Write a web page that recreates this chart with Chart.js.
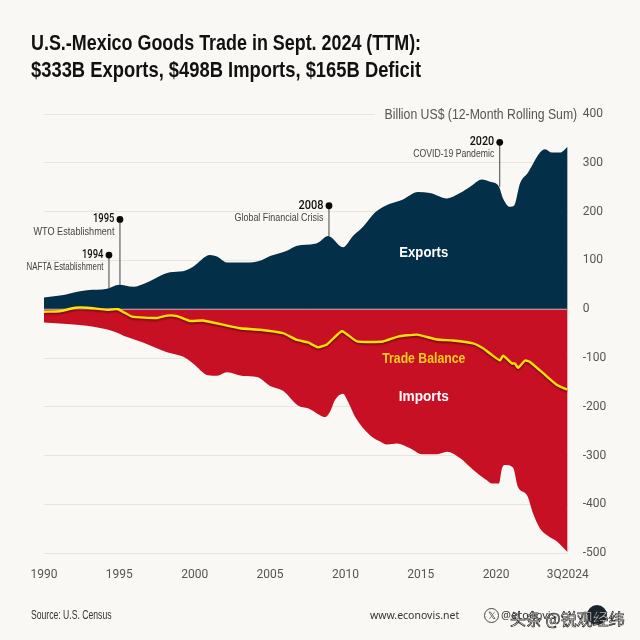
<!DOCTYPE html>
<html><head><meta charset="utf-8">
<script src="https://cdn.jsdelivr.net/npm/chart.js@4"></script>
<style>
html,body{margin:0;padding:0;background:#FAF8F4;}
#wrap{position:relative;width:640px;height:640px;overflow:hidden;background:#FAF8F4;}
canvas{position:absolute;left:0;top:0;}
.t{position:absolute;white-space:nowrap;}
.title{left:31px;font:bold 22px/27px "Liberation Sans",sans-serif;color:#111;transform-origin:left center;}
#unit{left:375px;width:202px;top:105px;height:18px;background:#FAF8F4;}
#unit span{position:absolute;right:0;top:0;font:14px/18px "Liberation Sans",sans-serif;color:#555;transform:scaleX(.875);transform-origin:right center;white-space:nowrap;}
#src{left:31px;top:608px;font:12.5px/14px "Liberation Sans",sans-serif;color:#333;transform:scaleX(.69);transform-origin:left center;}
#web{left:370px;top:608px;font:10.5px/14px "Noto Sans",sans-serif;color:#333;}
#xlogo{left:484px;top:608px;width:13px;height:13px;border:1px solid #444;border-radius:50%;font:10px/13px "Noto Sans",sans-serif;text-align:center;color:#333;}
#handle{left:501px;top:608px;font:11px/14px "Noto Sans",sans-serif;color:#333;}
#logo{left:587px;top:605px;width:20px;height:20px;border-radius:50%;background:#1a2430;}
#mark{left:510px;top:607px;font:16px/22px "Noto Sans CJK SC",sans-serif;color:#fff;-webkit-text-stroke:.7px #222;}
</style></head><body>
<div id="wrap">
<canvas id="c" width="640" height="640"></canvas>
<div class="t title" style="top:29px;transform:scaleX(.814)">U.S.-Mexico Goods Trade in Sept. 2024 (TTM):</div>
<div class="t title" style="top:56px;transform:scaleX(.835)">$333B Exports, $498B Imports, $165B Deficit</div>
<div class="t" id="unit"><span>Billion US$ (12-Month Rolling Sum)</span></div>
<div class="t" id="src">Source: U.S. Census</div>
<div class="t" id="web">www.econovis.net</div>
<div class="t" id="xlogo">𝕏</div>
<div class="t" id="handle">@econovis</div>
<div class="t" id="logo"></div>
<div class="t" id="mark">头条 @锐观经纬</div>
</div>
<script>
const exportYears=[1990,1991.06,1992.39,1992.85,1994.18,1994.98,1995.91,1996.83,1998.36,1999.22,1999.89,2001.02,2001.48,2002.14,2003.67,2004.47,2005,2006.12,2006.79,2007.98,2008.31,2008.85,2009.84,2010.5,2011.17,2011.96,2012.3,2012.96,2013.82,2014.82,2015.61,2016.74,2017.6,2018.27,2019.06,2019.6,2020.19,2020.46,2020.92,2021.19,2021.59,2022.12,2022.91,2023.24,2023.71,2024.24,2024.75];
const exportValues=[24,28,37,39,42,50,46,55,76,78,87,111,108,96,96,101,109,120,130,134,139,150,127,150,169,198,206,216,225,240,238,227,238,251,266,261,251,227,210,212,258,280,321,328,321,321,333];
const importYears=[1990,1991.53,1992.85,1994.58,1995.51,1996.57,1998.16,1999.22,1999.89,2000.88,2001.48,2002.14,2003.2,2004.13,2005,2005.86,2006.85,2007.52,2008.31,2008.65,2008.98,2009.31,2009.84,2010.17,2010.64,2011.63,2012.3,2012.76,2013.42,2014.29,2015.08,2016.08,2016.74,2017.6,2018.47,2019.4,2019.73,2020.19,2020.39,2020.59,2021.12,2021.45,2022.05,2022.45,2022.91,2023.38,2024.04,2024.75];
const importValues=[-27,-30,-34,-45,-57,-68,-88,-97,-111,-135,-136,-129,-137,-139,-157,-167,-197,-203,-217,-221,-210,-186,-173,-189,-220,-258,-271,-277,-275,-285,-297,-297,-292,-305,-329,-351,-357,-357,-326,-319,-324,-364,-381,-418,-449,-463,-476,-498];
const balanceYears=[1990,1991.06,1992.06,1992.85,1994.18,1994.91,1995.84,1997.5,1998.16,1998.83,1999.69,2000.55,2003,2004.33,2005.86,2006.79,2007.52,2008.18,2008.78,2009.77,2010.77,2012.5,2013.49,2014.75,2016.08,2017.14,2018.47,2019.13,2019.73,2020.26,2020.46,2021.06,2021.25,2021.45,2021.92,2022.25,2023.38,2024.04,2024.75];
const balanceValues=[-5,-4,3,3,-1,0,-15,-18,-13,-14,-24,-23,-39,-42,-49,-63,-68,-78,-72,-45,-66,-66,-56,-52,-62,-64,-70,-80,-94,-105,-95,-111,-111,-120,-105,-108,-138,-155,-165];
const zeroYears=[1990,2024.75];
const zeroValues=[0,0];
const xTickValues=[1990,1995,2000,2005,2010,2015,2020,2024.75];
const xTickLabels=["1990","1995","2000","2005","2010","2015","2020","3Q2024"];
const eventYears=[1994.31,1995.04,2008.91,2020.24];
const eventTops=[111,184,212,342];
const eventBases=[42,50,150,251];
const eventNames=["1994","1995","2008","2020"];
const eventNotes=["NAFTA Establishment","WTO Establishment","Global Financial Crisis","COVID-19 Pandemic"];
const areaLabels=["Exports","Trade Balance","Imports"];
const areaLabelY=[115,-101,-180];
const areaLabelYear=2015.2;

const zip=(xs,ys)=>xs.map((x,i)=>({x,y:ys[i]}));
const BAL=0;
function fitText(c,t,x,y,w,align){
  const m=c.measureText(t).width,s=Math.min(1,w/m);
  c.save();c.translate(x,y);c.scale(s,1);c.textAlign=align;c.fillText(t,0,0);c.restore();
}
const noteWidths=[77,81,89,81];
const nameWidths=[21.5,21.5,25,24.5];
const areaWidths=[49,83,50];
const overlay={
  id:'overlay',
  beforeDatasetDraw(ch,a){ if(a.index===BAL){const c=ch.ctx;c.save();c.shadowColor='rgba(70,0,10,.65)';c.shadowBlur=2;c.shadowOffsetY=1.5;} },
  afterDatasetDraw(ch,a){ if(a.index===BAL){ch.ctx.restore();} },
  afterDatasetsDraw(ch){
    const c=ch.ctx,X=ch.scales.x,Y=ch.scales.y;
    c.save();
    c.textBaseline='middle';
    eventYears.forEach((yr,i)=>{
      const px=X.getPixelForValue(yr),top=Y.getPixelForValue(eventTops[i]),bot=Y.getPixelForValue(eventBases[i]);
      c.strokeStyle='#444';c.lineWidth=1;
      c.beginPath();c.moveTo(px,top);c.lineTo(px,bot);c.stroke();
      c.fillStyle='#0a0a0a';c.beginPath();c.arc(px,top,3.4,0,Math.PI*2);c.fill();
      c.font='500 12px Roboto,sans-serif';c.fillStyle='#111';
      fitText(c,eventNames[i],px-5.5,top,nameWidths[i],'right');
      c.font='11.5px "Liberation Sans",sans-serif';c.fillStyle='#444';
      fitText(c,eventNotes[i],px-5.5,top+12,noteWidths[i],'right');
    });
    const cols=['#ffffff','#F5CE1A','#ffffff'];
    areaLabels.forEach((t,i)=>{
      c.font='bold 15.5px "Liberation Sans",sans-serif';
      c.fillStyle=cols[i];
      fitText(c,t,X.getPixelForValue(areaLabelYear),Y.getPixelForValue(areaLabelY[i]),areaWidths[i],'center');
    });
    c.restore();
  }
};
new Chart(document.getElementById('c'),{
  type:'line',
  data:{datasets:[
    {label:'Trade Balance',data:zip(balanceYears,balanceValues),borderColor:'#FFE207',borderWidth:2.4,fill:false,pointRadius:0,tension:0.15,borderJoinStyle:'round'},
    {label:'Zero',data:zip(zeroYears,zeroValues),borderColor:'#CDAAAC',borderWidth:1,fill:false,pointRadius:0},
    {label:'Exports',data:zip(exportYears,exportValues),borderWidth:0,backgroundColor:'#032F49',fill:'origin',pointRadius:0,cubicInterpolationMode:'monotone'},
    {label:'Imports',data:zip(importYears,importValues),borderWidth:0,backgroundColor:'#C81024',fill:'origin',pointRadius:0,cubicInterpolationMode:'monotone'},
  ]},
  options:{
    responsive:false,animation:false,
    layout:{padding:{left:44,top:114,right:0,bottom:0}},
    plugins:{legend:{display:false},tooltip:{enabled:false}},
    scales:{
      x:{type:'linear',min:1990,max:2024.75,
        afterBuildTicks:s=>{s.ticks=xTickValues.map(v=>({value:v}));},
        afterFit:s=>{s.height=86.7;},
        grid:{display:false},border:{display:false},
        ticks:{autoSkip:false,maxRotation:0,padding:6,color:'#555',font:{family:'Roboto',size:12},
          callback:v=>xTickLabels[xTickValues.indexOf(v)]}},
      y:{position:'right',min:-500,max:400,
        afterFit:s=>{s.width=72.3;},
        grid:{color:'#E7E5E0',lineWidth:1,drawTicks:false},border:{display:false},
        ticks:{stepSize:100,padding:15,color:'#555',font:{family:'Roboto',size:12}}}
    }
  },
  plugins:[overlay]
});
</script>
</body></html>
